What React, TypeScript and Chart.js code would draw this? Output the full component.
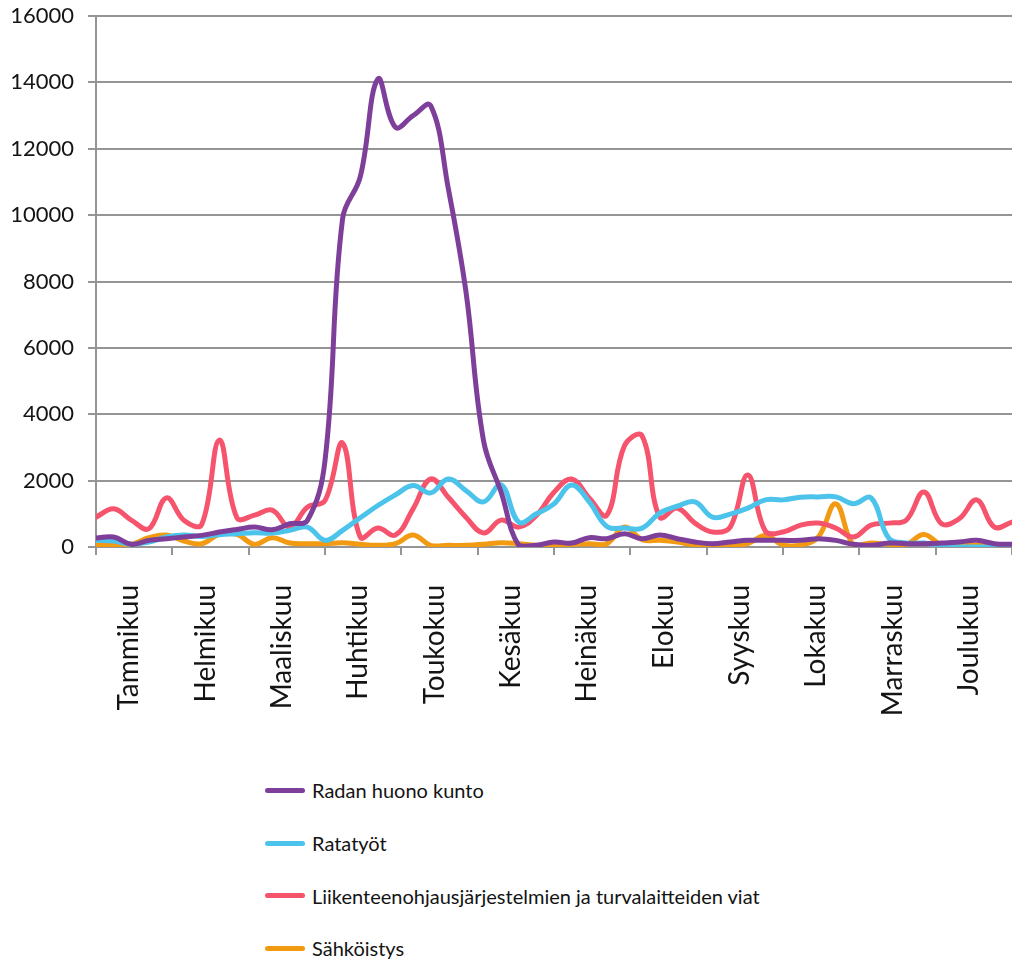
import { useEffect, useRef } from "react";
import { Chart, registerables } from "chart.js";

Chart.register(...registerables);

// Month labels along the bottom axis
const months = [
  "Tammikuu", "Helmikuu", "Maaliskuu", "Huhtikuu", "Toukokuu", "Kesäkuu",
  "Heinäkuu", "Elokuu", "Syyskuu", "Lokakuu", "Marraskuu", "Joulukuu",
];

// Y axis range
const yMin = 0;
const yMax = 16000;
const yStep = 2000;

// Weekly values (weeks 1–53) for each cause
const radanHuonoKunto = [
  270, 300, 80, 200, 250, 300, 350, 450, 530, 600, 520, 700, 800, 2600, 9900,
  11150, 14100, 12650, 13000, 13300, 10800, 7700, 3200, 1650, 50, 50, 150, 120,
  280, 250, 400, 250, 360, 250, 150, 100, 150, 200, 200, 200, 200, 250, 200, 80,
  50, 120, 100, 100, 120, 150, 200, 100, 80,
];

const ratatyot = [
  200, 180, 80, 150, 300, 360, 320, 370, 400, 430, 420, 500, 600, 200, 500, 880,
  1250, 1570, 1850, 1630, 2050, 1700, 1360, 1870, 750, 1000, 1300, 1870, 1360,
  620, 570, 570, 1020, 1230, 1360, 900, 990, 1170, 1420, 1420, 1500, 1510, 1510,
  1300, 1480, 270, 120, 120, 30, 0, 0, 0, 0,
];

const liikenteenohjaus = [
  900, 1150, 810, 550, 1480, 800, 680, 3220, 880, 960, 1110, 600, 1200, 1400,
  3130, 300, 570, 360, 1150, 2050, 1500, 900, 420, 810, 600, 950, 1650, 2050,
  1480, 960, 3050, 3350, 900, 1170, 720, 450, 600, 2170, 480, 450, 660, 720, 570,
  300, 660, 720, 810, 1660, 700, 850, 1420, 600, 750,
];

const sahkoistys = [
  60, 60, 80, 280, 360, 180, 100, 380, 380, 80, 280, 120, 100, 100, 130, 80, 50,
  100, 360, 50, 50, 50, 80, 130, 100, 50, 60, 80, 100, 100, 600, 220, 200, 150,
  60, 50, 60, 100, 350, 60, 60, 300, 1300, 50, 120, 80, 80, 380, 60, 60, 50, 60,
  60,
];

const series = [
  { label: "Radan huono kunto", values: radanHuonoKunto, color: "#7e3f9a" },
  { label: "Ratatyöt", values: ratatyot, color: "#4cc3ea" },
  { label: "Liikenteenohjausjärjestelmien ja turvalaitteiden viat", values: liikenteenohjaus, color: "#f6546c" },
  { label: "Sähköistys", values: sahkoistys, color: "#f29a12" },
];

const GRID = "#959595";
const TEXT = "#141414";
const FONT = "Lato, 'Open Sans', sans-serif";

const CANVAS_W = 1012;
const CANVAS_H = 740;
const AXIS_BOTTOM = 547;

export default function App() {
  const canvasRef = useRef<HTMLCanvasElement>(null);

  useEffect(() => {
    if (!canvasRef.current) return;
    const lastWeek = radanHuonoKunto.length - 1;
    const chart = new Chart(canvasRef.current, {
      type: "line",
      data: {
        labels: months,
        datasets: series.map((s) => ({
          label: s.label,
          data: s.values.map((v, i) => ({ x: i, y: v })),
          borderColor: s.color,
          backgroundColor: s.color,
          borderWidth: 5,
          pointRadius: 0,
          tension: 0.4,
          fill: false,
          xAxisID: "weeks",
          borderCapStyle: "round",
          borderJoinStyle: "round",
        })),
      },
      options: {
        responsive: false,
        animation: false,
        layout: { padding: { top: 16, left: 0, right: 0, bottom: 0 } },
        plugins: {
          legend: { display: false },
          tooltip: { enabled: false },
        },
        scales: {
          x: {
            type: "category",
            labels: months,
            offset: true,
            position: "bottom",
            grid: {
              offset: true,
              drawOnChartArea: false,
              color: GRID,
              lineWidth: 2,
              tickLength: 8,
            },
            border: { color: GRID, width: 2 },
            ticks: {
              autoSkip: false,
              maxRotation: 90,
              minRotation: 90,
              padding: 30,
              labelOffset: -5,
              color: TEXT,
              font: { family: FONT, size: 28 },
            },
            afterFit: (scale: any) => {
              scale.height = CANVAS_H - AXIS_BOTTOM;
              scale.paddingLeft = 0;
              scale.paddingRight = 0;
            },
          },
          weeks: {
            type: "linear",
            display: false,
            min: 0,
            max: lastWeek,
          },
          y: {
            min: yMin,
            max: yMax,
            grid: { color: GRID, lineWidth: 2, tickLength: 8 },
            border: { color: GRID, width: 2 },
            ticks: {
              stepSize: yStep,
              padding: 14,
              color: TEXT,
              font: { family: FONT, size: 22 },
              callback: (v: any) => String(v),
            },
            afterFit: (scale: any) => {
              scale.width = 96;
              scale.paddingTop = 0;
              scale.paddingBottom = 0;
            },
          },
        },
      },
    });
    return () => chart.destroy();
  }, []);

  return (
    <div
      style={{
        position: "absolute",
        left: 0,
        top: 0,
        width: CANVAS_W,
        height: 962,
        background: "#fff",
        fontFamily: FONT,
      }}
    >
      <canvas
        ref={canvasRef}
        width={CANVAS_W}
        height={CANVAS_H}
        style={{ display: "block", width: CANVAS_W, height: CANVAS_H }}
      />
      <div style={{ position: "absolute", left: 265, top: 764 }}>
        {series.map((s) => (
          <div
            key={s.label}
            style={{ display: "flex", alignItems: "center", height: 52.7 }}
          >
            <span
              style={{
                display: "inline-block",
                width: 40,
                height: 5,
                borderRadius: 3,
                background: s.color,
                marginRight: 7,
              }}
            />
            <span style={{ fontSize: 20, color: TEXT, whiteSpace: "nowrap" }}>
              {s.label}
            </span>
          </div>
        ))}
      </div>
    </div>
  );
}
